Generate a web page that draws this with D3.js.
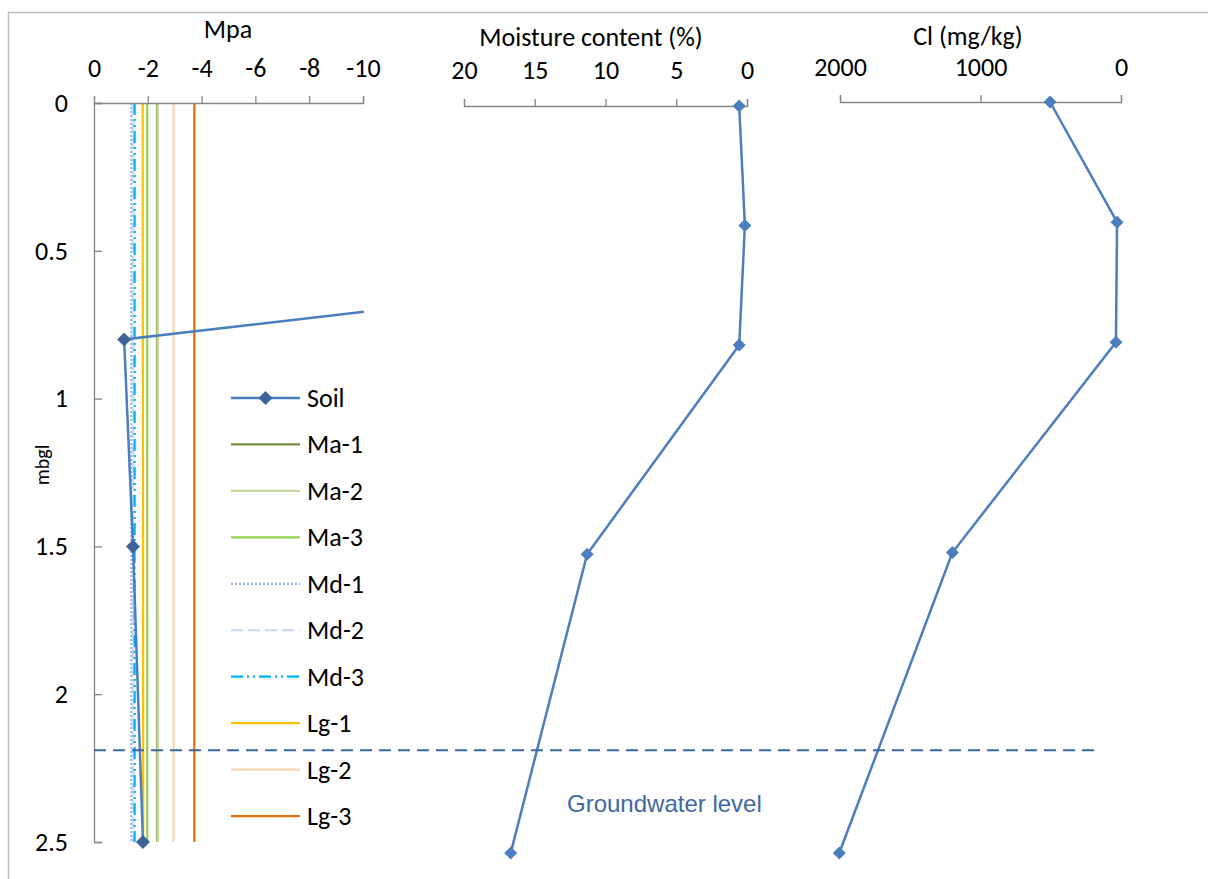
<!DOCTYPE html>
<html>
<head>
<meta charset="utf-8">
<script src="https://cdn.jsdelivr.net/npm/d3@7"></script>
<style>
  body { margin: 0; background: #fff; }
  text { font-family: Carlito, Calibri, Lato, sans-serif; fill: #000; }
  .axis path, .axis line { stroke: #868686; stroke-width: 1.3; }
</style>
</head>
<body>
<div id="vis"></div>
<script>
// chart values
var depthTicks = [0, 0.5, 1, 1.5, 2, 2.5];
var mpaTicks = [0, -2, -4, -6, -8, -10];
var moistTicks = [20, 15, 10, 5, 0];
var clTicks = [2000, 1000, 0];

// soil water potential (MPa) by depth (m)
var soilDepth = [0.4, 0.8, 1.5, 2.5];
var soilMpa = [-39.3, -1.12, -1.45, -1.82];

// plant water potential series (MPa), constant over depth
var plantNames = ["Ma-1", "Ma-2", "Ma-3", "Md-1", "Md-2", "Md-3", "Lg-1", "Lg-2", "Lg-3"];
var plantDepth = [0, 2.5];
var plantTop = [-2.35, -2.37, -1.98, -1.39, -1.45, -1.51, -1.81, -2.96, -3.73];
var plantBottom = [-2.35, -2.37, -1.98, -1.39, -1.45, -1.51, -1.83, -2.96, -3.73];
var plantColors = ["#76923C", "#C3D69B", "#92D050", "#8DB3E2", "#C6D9F1", "#00B0F0", "#FFC000", "#FBD4B4", "#E36C09"];
var plantDash = [null, null, null, "2,2", "12,5", "12,4,2,4,2,4", null, null, null];

// moisture content (%) and chloride (mg/kg) by depth
var profileDepth = [0, 0.4, 0.8, 1.5, 2.5];
var moisture = [0.55, 0.15, 0.55, 11.3, 16.7];
var chloride = [505, 28, 36, 1200, 2005];

var groundwaterDepth = 2.19;

var width = 1208;
var height = 879;
var blue = "#4A7EBF";
var FONT = "26px";

var svg = d3.select("#vis")
            .append("svg")
            .attr("width", width)
            .attr("height", height);

// outer chart border
svg.append("rect")
    .attr("x", 8.5).attr("y", 12.5)
    .attr("width", 1300).attr("height", 1000)
    .attr("fill", "none")
    .attr("stroke", "#BFBFBF")
    .attr("stroke-width", 1.5);

// scales for the three panels
var xMpa = d3.scaleLinear().domain([0, -10]).range([94, 363]);
var yMpa = d3.scaleLinear().domain([0, 2.5]).range([103, 842]);

var xMoist = d3.scaleLinear().domain([20, 0]).range([464, 747]);
var yMoist = d3.scaleLinear().domain([0, 2.5]).range([106, 853]);

var xCl = d3.scaleLinear().domain([2000, 0]).range([840, 1121]);
var yCl = d3.scaleLinear().domain([0, 2.5]).range([102, 853]);

// plain hyphen minus like the original
var plain = function(d) { return String(d); };

function diamond(r) {
    return "M0," + (-r) + "L" + r + ",0L0," + r + "L" + (-r) + ",0Z";
}

function styleAxis(g) {
    g.selectAll("text")
        .style("font-family", "Carlito, Calibri, Lato, sans-serif")
        .style("font-size", FONT)
        .attr("fill", "#000");
}

// ---- left panel: water potential ----
svg.append("g")
    .attr("class", "axis")
    .attr("transform", "translate(" + xMpa(0) + ",0)")
    .call(d3.axisLeft(yMpa).tickValues(depthTicks).tickSizeInner(-8).tickSizeOuter(-8).tickPadding(26)
          .tickFormat(plain))
    .call(styleAxis);

svg.append("defs").append("clipPath")
    .attr("id", "clipMpa")
    .append("rect")
    .attr("x", 94).attr("y", 90)
    .attr("width", 270).attr("height", 770);

var plot = svg.append("g").attr("clip-path", "url(#clipMpa)");

var lineMpa = d3.line()
    .x(function(d) { return xMpa(d[1]); })
    .y(function(d) { return yMpa(d[0]); });

plantNames.forEach(function(name, i) {
    plot.append("path")
        .datum([[plantDepth[0], plantTop[i]], [plantDepth[1], plantBottom[i]]])
        .attr("d", lineMpa)
        .attr("fill", "none")
        .attr("stroke", plantColors[i])
        .attr("stroke-width", 2.2)
        .attr("stroke-dasharray", plantDash[i]);
});

var soil = soilDepth.map(function(d, i) { return [d, soilMpa[i]]; });

plot.append("path")
    .datum(soil)
    .attr("d", lineMpa)
    .attr("fill", "none")
    .attr("stroke", blue)
    .attr("stroke-width", 2.5);

plot.selectAll(".soilpt")
    .data(soil)
    .enter().append("path")
    .attr("class", "soilpt")
    .attr("transform", function(d) { return "translate(" + xMpa(d[1]) + "," + yMpa(d[0]) + ")"; })
    .attr("d", diamond(7))
    .attr("fill", "#3C6499");

svg.append("g")
    .attr("class", "axis")
    .attr("transform", "translate(0," + yMpa(0) + ")")
    .call(d3.axisTop(xMpa).tickValues(mpaTicks).tickSizeInner(7).tickSizeOuter(7).tickPadding(19)
          .tickFormat(plain))
    .call(styleAxis);

svg.append("text")
    .attr("x", 228).attr("y", 38)
    .attr("text-anchor", "middle")
    .style("font-size", FONT)
    .text("Mpa");

// y axis title, rotated
svg.append("text")
    .attr("transform", "translate(49,465) rotate(-90)")
    .attr("text-anchor", "middle")
    .style("font-size", "20px")
    .text("mbgl");

// legend
var legendNames = ["Soil"].concat(plantNames);
var legendColors = [blue].concat(plantColors);
var legendDash = [null].concat(plantDash);

var legend = svg.append("g");
legendNames.forEach(function(name, i) {
    var ly = 398 + i * 46.45;
    legend.append("line")
        .attr("x1", 231).attr("x2", 300)
        .attr("y1", ly).attr("y2", ly)
        .attr("stroke", legendColors[i])
        .attr("stroke-width", i == 0 ? 2.5 : 2.2)
        .attr("stroke-dasharray", legendDash[i]);
    if (i == 0) {
        legend.append("path")
            .attr("transform", "translate(265.5," + ly + ")")
            .attr("d", diamond(7))
            .attr("fill", "#3C6499");
    }
    legend.append("text")
        .attr("x", 307).attr("y", ly + 9)
        .style("font-size", FONT)
        .text(name);
});

// ---- middle panel: moisture content ----
svg.append("g")
    .attr("class", "axis")
    .attr("transform", "translate(0," + yMoist(0) + ")")
    .call(d3.axisTop(xMoist).tickValues(moistTicks).tickSizeInner(7).tickSizeOuter(7).tickPadding(20)
          .tickFormat(plain))
    .call(styleAxis);

svg.append("text")
    .attr("x", 591).attr("y", 46)
    .attr("text-anchor", "middle")
    .style("font-size", FONT)
    .text("Moisture content (%)");

var moist = profileDepth.map(function(d, i) { return [d, moisture[i]]; });

svg.append("path")
    .datum(moist)
    .attr("d", d3.line()
        .x(function(d) { return xMoist(d[1]); })
        .y(function(d) { return yMoist(d[0]); }))
    .attr("fill", "none")
    .attr("stroke", blue)
    .attr("stroke-width", 2.5);

svg.selectAll(".moistpt")
    .data(moist)
    .enter().append("path")
    .attr("class", "moistpt")
    .attr("transform", function(d) { return "translate(" + xMoist(d[1]) + "," + yMoist(d[0]) + ")"; })
    .attr("d", diamond(6.5))
    .attr("fill", blue);

// ---- right panel: chloride ----
svg.append("g")
    .attr("class", "axis")
    .attr("transform", "translate(0," + yCl(0) + ")")
    .call(d3.axisTop(xCl).tickValues(clTicks).tickSizeInner(7).tickSizeOuter(7).tickPadding(19)
          .tickFormat(plain))
    .call(styleAxis);

svg.append("text")
    .attr("x", 968).attr("y", 45)
    .attr("text-anchor", "middle")
    .style("font-size", FONT)
    .text("Cl (mg/kg)");

var cl = profileDepth.map(function(d, i) { return [d, chloride[i]]; });

svg.append("path")
    .datum(cl)
    .attr("d", d3.line()
        .x(function(d) { return xCl(d[1]); })
        .y(function(d) { return yCl(d[0]); }))
    .attr("fill", "none")
    .attr("stroke", blue)
    .attr("stroke-width", 2.5);

svg.selectAll(".clpt")
    .data(cl)
    .enter().append("path")
    .attr("class", "clpt")
    .attr("transform", function(d) { return "translate(" + xCl(d[1]) + "," + yCl(d[0]) + ")"; })
    .attr("d", diamond(6.5))
    .attr("fill", blue);

// groundwater level
svg.append("line")
    .attr("x1", 94).attr("x2", 1097)
    .attr("y1", yMpa(groundwaterDepth)).attr("y2", yMpa(groundwaterDepth))
    .attr("stroke", "#3D67A0")
    .attr("stroke-width", 2)
    .attr("stroke-dasharray", "12,7");

svg.append("text")
    .attr("x", 567).attr("y", 812)
    .style("font-family", "'Liberation Sans', Arial, sans-serif")
    .style("font-size", "24px")
    .style("fill", "#3F68A3")
    .text("Groundwater level");
</script>
</body>
</html>
